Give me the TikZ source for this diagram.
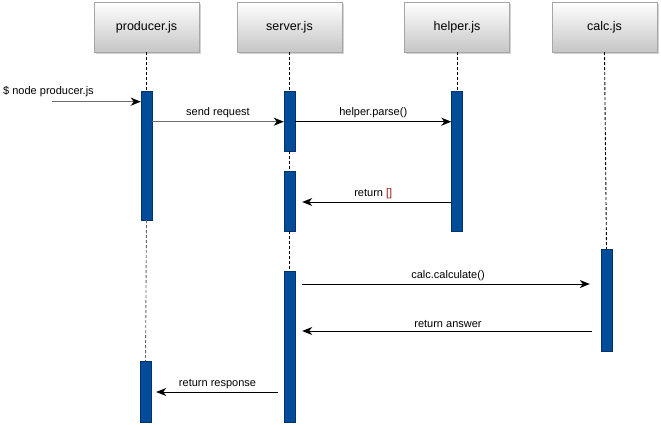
\documentclass[tikz,border=0pt]{standalone}
\usepackage{fontspec}
\setmainfont{Liberation Sans}
\usetikzlibrary{arrows.meta,shadows}
\definecolor{barblue}{RGB}{0,76,153}
\definecolor{bardark}{RGB}{0,50,110}
\definecolor{retred}{RGB}{150,20,20}

\begin{document}
\begin{tikzpicture}[x=1pt,y=-1pt,
  head/.style={rectangle,draw=gray!70,top color=white,bottom color=gray!45,
    minimum width=105pt,minimum height=50pt,font=\fontsize{12.5}{14}\selectfont,
    drop shadow={shadow xshift=1.5pt,shadow yshift=-1.5pt,opacity=0.35}},
  bar/.style={rectangle,draw=bardark,fill=barblue,minimum width=11pt,inner sep=0pt},
  life/.style={dash pattern=on 3pt off 2pt,line width=0.9pt},
  msg/.style={-{Stealth[length=10pt,width=8pt,inset=3pt]},line width=1pt},
  msggray/.style={draw=gray!85!black,line width=1.5pt,-{Stealth[length=10pt,width=8pt,inset=3pt,black]}},
  lbl/.style={font=\fontsize{11}{13}\selectfont,inner sep=3pt}]
\useasboundingbox (0,0) rectangle (661,424);
\node[head] (producer) at (146.5,27) {producer.js};
\node[head] (server) at (289.5,27) {server.js};
\node[head] (helper) at (457,27) {helper.js};
\node[head] (calc) at (604.5,27) {calc.js};
\node[bar,minimum height=129pt] (pb1) at (146.5,155.5) {};
\node[bar,minimum height=61pt] (pb2) at (145.5,391.5) {};
\node[bar,minimum height=60pt] (sb1) at (289.5,121) {};
\node[bar,minimum height=60pt] (sb2) at (289.5,201) {};
\node[bar,minimum height=151pt] (sb3) at (289.5,346.5) {};
\node[bar,minimum height=140pt] (hb) at (457,161) {};
\node[bar,minimum height=102pt] (cb) at (606.5,300) {};
\draw[life] (producer.south) -- (pb1.north);
\draw[life,gray!80!black] (pb1.south) -- (pb2.north);
\draw[life] (server.south) -- (sb1.north);
\draw[life] (sb1.south) -- (sb2.north);
\draw[life] (sb2.south) -- (sb3.north);
\draw[life] (helper.south) -- (hb.north);
\draw[life] (calc.south) -- (cb.north);
% message rows
\coordinate (start) at (52,101.7);
\coordinate (r1) at (0,121.7);
\coordinate (r2) at (0,202);
\coordinate (r3) at (0,284);
\coordinate (r4) at (0,331);
\coordinate (r5) at (0,392);
\node[lbl,anchor=west] (cmd) at (0,92) {\$ node producer.js};
\draw[msggray] (start) -- (pb1.west |- start);
\draw[msggray] (pb1.east |- r1) -- node[lbl,above] {send request} (sb1.west |- r1);
\draw[msg] (sb1.east |- r1) -- node[lbl,above] {helper.parse()} (hb.west |- r1);
\draw[msg,shorten >=7pt] (hb.west |- r2) -- node[lbl,above] {return \textcolor{retred}{[]}} (sb2.east |- r2);
\draw[msg,shorten <=7pt,shorten >=11pt] (sb3.east |- r3) -- node[lbl,above] {calc.calculate()} (cb.west |- r3);
\draw[msg,shorten <=9pt,shorten >=7pt] (cb.west |- r4) -- node[lbl,above] {return answer} (sb3.east |- r4);
\draw[msg,shorten <=6pt,shorten >=5pt] (sb3.west |- r5) -- node[lbl,above] {return response} (pb2.east |- r5);
\end{tikzpicture}
\end{document}
